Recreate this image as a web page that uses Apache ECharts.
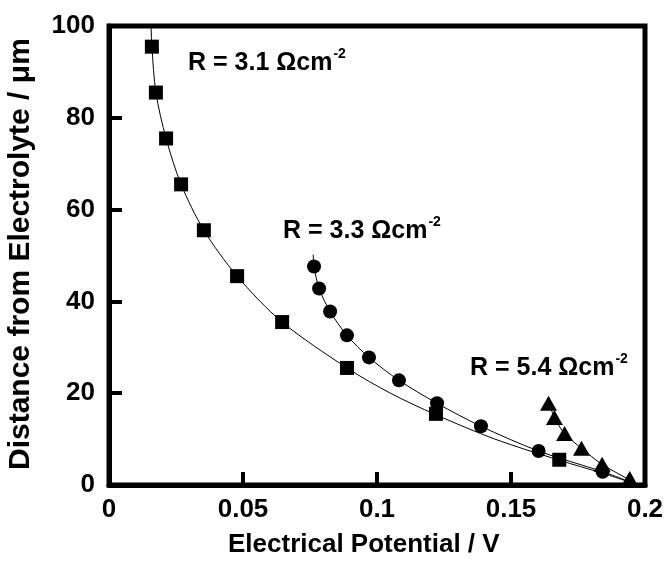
<!DOCTYPE html>
<html>
<head>
<meta charset="utf-8">
<script src="https://cdn.jsdelivr.net/npm/echarts@6/dist/echarts.min.js"></script>
<style>html,body{margin:0;padding:0;background:#fff}#c{width:668px;height:574px}</style>
</head>
<body>
<div id="c"></div>
<script>
// Data
var xTicks = [0, 0.05, 0.1, 0.15, 0.2];
var yTicks = [0, 20, 40, 60, 80, 100];

// R = 3.1 series (squares)
var sqX = [0.0160, 0.0175, 0.0213, 0.0269, 0.0354, 0.0478, 0.0646, 0.0888, 0.1220, 0.1680];
var sqY = [95.5, 85.5, 75.5, 65.5, 55.5, 45.5, 35.5, 25.5, 15.5, 5.5];
// R = 3.3 series (circles)
var ciX = [0.0765, 0.0784, 0.0825, 0.0888, 0.0970, 0.1082, 0.1224, 0.1388, 0.1603, 0.1842];
var ciY = [47.6, 42.8, 37.8, 32.6, 27.8, 22.8, 17.8, 12.8, 7.4, 2.9];
// R = 5.4 series (triangles)
var trX = [0.1640, 0.1662, 0.1700, 0.1763, 0.1840, 0.1943];
var trY = [17.8, 14.7, 11.2, 8.0, 4.5, 1.4];

// fitted curves
var fitSqX = [0.0157, 0.0160, 0.0175, 0.0213, 0.0269, 0.0354, 0.0478, 0.0646, 0.0888, 0.1050, 0.1220, 0.1440, 0.1680, 0.1840, 0.1975];
var fitSqY = [100, 95.5, 85.5, 75.5, 65.5, 55.5, 45.5, 35.5, 25.5, 20.0, 15.3, 10.0, 5.4, 2.6, 0];
var fitCiX = [0.0762, 0.0765, 0.0784, 0.0825, 0.0888, 0.0970, 0.1082, 0.1224, 0.1388, 0.1603, 0.1842, 0.1975];
var fitCiY = [50.2, 47.6, 42.8, 37.8, 32.6, 27.8, 22.8, 17.8, 12.8, 7.4, 2.9, 0];
var fitTrX = [0.1638, 0.1662, 0.1700, 0.1763, 0.1840, 0.1943, 0.1980];
var fitTrY = [18.6, 14.7, 11.2, 8.0, 4.5, 1.1, 0];

var labels = ['R = 3.1 \u03A9cm', 'R = 3.3 \u03A9cm', 'R = 5.4 \u03A9cm'];
var sup = '-2';

function zip(a, b) { return a.map(function (v, i) { return [v, b[i]]; }); }

var FONT = '"Liberation Sans", Arial, sans-serif';
var MAINFONT = 'bold 25px ' + FONT;
var SUPFONT = 'bold 14px ' + FONT;

var cv = document.createElement('canvas').getContext('2d');
function textW(t, f) { cv.font = f; return cv.measureText(t).width; }

function annot(x, capTop, txt) {
  var w = textW(txt, MAINFONT);
  var y = capTop - 4.7;
  return [
    { type: 'text', x: x, y: y, style: { text: txt, font: MAINFONT, fill: '#000' } },
    { type: 'text', x: x + w + 1, y: capTop - 7.5, style: { text: sup, font: SUPFONT, fill: '#000' } }
  ];
}

var chart = echarts.init(document.getElementById('c'));

var graphics = [
  { type: 'text', left: 228, top: 532, style: { text: 'Electrical Potential / V', font: 'bold 26px ' + FONT, fill: '#000' } },
  { type: 'text', x: 6, y: 470, rotation: Math.PI / 2, style: { text: 'Distance from Electrolyte / \u03BCm', font: 'bold 30px ' + FONT, fill: '#000', align: 'left', verticalAlign: 'top' } }
].concat(annot(188, 55, labels[0]), annot(283, 223, labels[1]), annot(470, 360, labels[2]));

var mk = { color: '#000', opacity: 1 };

chart.setOption({
  animation: false,
  backgroundColor: '#fff',
  grid: { left: 109, right: 23, top: 26, bottom: 89, show: true, borderColor: '#000', borderWidth: 5, backgroundColor: 'transparent' },
  xAxis: {
    type: 'value', min: xTicks[0], max: xTicks[xTicks.length - 1], interval: 0.05,
    axisLine: { show: true, lineStyle: { color: '#000', width: 5 } },
    axisTick: { show: true, inside: true, length: 13, lineStyle: { color: '#000', width: 4 } },
    splitLine: { show: false },
    axisLabel: { color: '#000', fontFamily: FONT, fontWeight: 'bold', fontSize: 26, margin: 12,
      formatter: function (v) { return String(parseFloat(v.toFixed(2))); } }
  },
  yAxis: {
    type: 'value', min: yTicks[0], max: yTicks[yTicks.length - 1], interval: 20,
    axisLine: { show: true, lineStyle: { color: '#000', width: 5 } },
    axisTick: { show: true, inside: true, length: 13, lineStyle: { color: '#000', width: 4 } },
    splitLine: { show: false },
    axisLabel: { color: '#000', fontFamily: FONT, fontWeight: 'bold', fontSize: 26, margin: 14 }
  },
  graphic: graphics,
  series: [
    { type: 'line', data: zip(fitSqX, fitSqY), smooth: 0.3, showSymbol: false, lineStyle: { color: '#000', width: 1 }, z: 2 },
    { type: 'line', data: zip(fitCiX, fitCiY), smooth: 0.3, showSymbol: false, lineStyle: { color: '#000', width: 1 }, z: 2 },
    { type: 'line', data: zip(fitTrX, fitTrY), smooth: 0.3, showSymbol: false, lineStyle: { color: '#000', width: 1 }, z: 2 },
    { type: 'scatter', data: zip(sqX, sqY), symbol: 'rect', symbolSize: 14, itemStyle: mk, z: 3 },
    { type: 'scatter', data: zip(ciX, ciY), symbol: 'circle', symbolSize: 14, itemStyle: mk, z: 3 },
    { type: 'scatter', data: zip(trX, trY), symbol: 'triangle', symbolSize: [17, 15], itemStyle: mk, z: 3 }
  ]
});
</script>
</body>
</html>
